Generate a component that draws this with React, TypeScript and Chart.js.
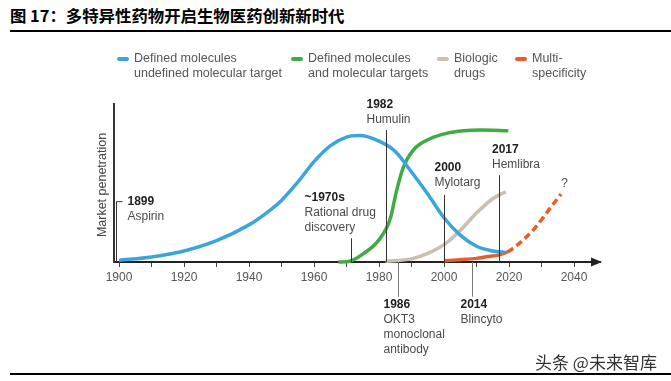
import React, { useEffect, useRef } from "react";
import { Chart, registerables } from "chart.js";

Chart.register(...registerables);

// ---------- text ----------
const TITLE = "图 17：多特异性药物开启生物医药创新新时代";
const WATERMARK = "头条 @未来智库";
const Y_TITLE = "Market penetration";
const PROJECTION_MARK = "?";

// ---------- axis ----------
const X_MIN = 1898.46;
const X_MAX = 2048;
const X_TICKS = [1900, 1910, 1920, 1930, 1940, 1950, 1960, 1970, 1980, 1990, 2000, 2010, 2020, 2030, 2040];
const X_LABEL_STEP = 20;

// ---------- series ----------
const SERIES_NAMES = [
  ["Defined molecules", "undefined molecular target"],
  ["Defined molecules", "and molecular targets"],
  ["Biologic", "drugs"],
  ["Multi-", "specificity"],
];
const SERIES_COLORS = ["#3aa5dc", "#3fab45", "#c9bfb3", "#e3602c"];

const BLUE_X = [1900, 1910, 1920, 1930, 1940, 1945, 1950, 1955, 1960, 1965, 1970, 1974, 1980, 1985, 1990, 1995, 2000, 2005, 2010, 2015, 2019];
const BLUE_Y = [1, 3.2, 7, 13.5, 23.5, 30.5, 39, 50.5, 63.5, 73.5, 79, 80, 76.5, 70, 57, 43, 28, 17, 10, 7, 6];

const GREEN_X = [1967.5, 1971, 1975, 1980, 1983.4, 1985.4, 1987.5, 1990.6, 1995.7, 2000.8, 2006, 2011, 2019.8];
const GREEN_Y = [0, 0.5, 5, 14, 27, 45, 60, 71, 78, 81.4, 83, 83.5, 83];

const BEIGE_X = [1982, 1990, 1995, 2000, 2005, 2010, 2015, 2019];
const BEIGE_Y = [0.5, 2, 5.5, 11, 20, 31, 40, 44.5];

const ORANGE_X = [2000, 2005, 2010, 2013, 2017, 2019.5, 2023, 2028, 2033, 2036];
const ORANGE_Y = [0.8, 1.5, 2.3, 3.3, 4.5, 6.3, 11.5, 21.5, 35, 43];
const ORANGE_PROJECTION_FROM = 2019.5;

// ---------- milestones ----------
const MILESTONE_YEARS = ["1899", "~1970s", "1982", "2000", "2017", "1986", "2014"];
const MILESTONE_NAMES = [
  ["Aspirin"],
  ["Rational drug", "discovery"],
  ["Humulin"],
  ["Mylotarg"],
  ["Hemlibra"],
  ["OKT3", "monoclonal", "antibody"],
  ["Blincyto"],
];
const MILESTONE_X = [1899, 1971.3, 1982, 2000, 2017, 1985.8, 2008.5];
const MILESTONE_END = [38.2, 15, 83.5, 42.5, 55, -22, -22];

// label layout (pixels, relative to the far end of each milestone line)
const MILESTONE_LAYOUT = [
  { dx: 11, dy: 0, tick: true },
  { dx: -47, dy: -41 },
  { dx: -20, dy: -25 },
  { dx: -10, dy: -27.5 },
  { dx: -7.5, dy: -25.5 },
  { dx: -15, dy: 8 },
  { dx: -12, dy: 8 },
];
const LEGEND_LEFT = [117, 291, 437, 515];

const FONT = "'Liberation Sans', Arial, Helvetica, sans-serif";

const overlayPlugin = {
  id: "overlay",
  afterDatasetsDraw(chart: any) {
    const { ctx, scales } = chart;
    const xs = scales.x;
    const ys = scales.y;
    ctx.save();
    MILESTONE_X.forEach((yr, i) => {
      const px = Math.round(xs.getPixelForValue(yr)) + 0.5;
      const p0 = ys.getPixelForValue(0);
      const p1 = ys.getPixelForValue(MILESTONE_END[i]);
      const below = MILESTONE_END[i] < 0;
      ctx.strokeStyle = below ? "#777" : "#333";
      ctx.lineWidth = 1;
      ctx.beginPath();
      ctx.moveTo(px, p0);
      ctx.lineTo(px, p1);
      const lay = MILESTONE_LAYOUT[i];
      if (lay.tick) {
        ctx.lineTo(px + 6, p1);
      }
      ctx.stroke();
      const lx = px + lay.dx;
      let ly = p1 + lay.dy;
      ctx.textAlign = "left";
      ctx.textBaseline = "middle";
      ctx.fillStyle = "#1e1e1e";
      ctx.font = `bold 12px ${FONT}`;
      ctx.fillText(MILESTONE_YEARS[i], lx, ly);
      ctx.font = `12px ${FONT}`;
      ctx.fillStyle = "#4a4a4a";
      MILESTONE_NAMES[i].forEach((t) => {
        ly += 15;
        ctx.fillText(t, lx, ly);
      });
    });
    // projection question mark
    const lastI = ORANGE_X.length - 1;
    ctx.font = `12.5px ${FONT}`;
    ctx.fillStyle = "#555";
    ctx.textAlign = "center";
    ctx.textBaseline = "middle";
    ctx.fillText(
      PROJECTION_MARK,
      xs.getPixelForValue(ORANGE_X[lastI]) + 3.5,
      ys.getPixelForValue(ORANGE_Y[lastI]) - 11
    );
    ctx.restore();
  },
  afterDraw(chart: any) {
    const { ctx, chartArea } = chart;
    ctx.save();
    // arrow head on x axis
    const b = chartArea.bottom;
    const r = chartArea.right;
    ctx.fillStyle = "#222";
    ctx.beginPath();
    ctx.moveTo(r + 2, b);
    ctx.lineTo(r - 9, b - 4.5);
    ctx.lineTo(r - 9, b + 4.5);
    ctx.closePath();
    ctx.fill();
    // y title
    ctx.translate(103, (chartArea.top + chartArea.bottom) / 2 + 2);
    ctx.rotate(-Math.PI / 2);
    ctx.font = `12.5px ${FONT}`;
    ctx.fillStyle = "#444";
    ctx.textAlign = "center";
    ctx.textBaseline = "middle";
    ctx.fillText(Y_TITLE, 0, 0);
    ctx.restore();
    // legend
    ctx.save();
    chart.data.datasets.forEach((ds: any, i: number) => {
      const left = LEGEND_LEFT[i];
      ctx.strokeStyle = ds.borderColor;
      ctx.lineWidth = 4;
      ctx.lineCap = "round";
      ctx.beginPath();
      ctx.moveTo(left + 2, 59);
      ctx.lineTo(left + 10, 59);
      ctx.stroke();
      ctx.font = `12.5px ${FONT}`;
      ctx.fillStyle = "#555";
      ctx.textAlign = "left";
      ctx.textBaseline = "middle";
      SERIES_NAMES[i].forEach((t, k) => ctx.fillText(t, left + 17, 59 + k * 14.5));
    });
    ctx.restore();
  },
};

function pts(xs: number[], ys: number[]) {
  return xs.map((x, i) => ({ x, y: ys[i] }));
}

export default function App() {
  const ref = useRef<HTMLCanvasElement | null>(null);
  useEffect(() => {
    if (!ref.current) return;
    const common = {
      pointRadius: 0,
      borderWidth: 3.5,
      fill: false,
      cubicInterpolationMode: "monotone",
      clip: false,
    };
    const chart = new Chart(ref.current, {
      type: "line",
      data: {
        datasets: [
          { ...common, label: SERIES_NAMES[0].join(" "), data: pts(BLUE_X, BLUE_Y), borderColor: SERIES_COLORS[0] },
          { ...common, label: SERIES_NAMES[1].join(" "), data: pts(GREEN_X, GREEN_Y), borderColor: SERIES_COLORS[1] },
          { ...common, label: SERIES_NAMES[2].join(" "), data: pts(BEIGE_X, BEIGE_Y), borderColor: SERIES_COLORS[2] },
          {
            ...common,
            label: SERIES_NAMES[3].join(" "),
            data: pts(ORANGE_X, ORANGE_Y),
            borderColor: SERIES_COLORS[3],
            segment: {
              borderDash: (c: any) => (c.p0.parsed.x >= ORANGE_PROJECTION_FROM ? [7, 4] : undefined),
            },
          },
        ] as any,
      },
      options: {
        responsive: false,
        animation: false,
        devicePixelRatio: 1,
        layout: { padding: { left: 114, right: 71, top: 104, bottom: 79 } },
        plugins: { legend: { display: false }, tooltip: { enabled: false }, title: { display: false } },
        scales: {
          x: {
            type: "linear",
            min: X_MIN,
            max: X_MAX,
            afterBuildTicks: (s: any) => {
              s.ticks = X_TICKS.map((v) => ({ value: v }));
            },
            afterFit: (s: any) => {
              s.height = 40;
            },
            ticks: {
              autoSkip: false,
              maxRotation: 0,
              color: "#555",
              font: { family: FONT, size: 12 },
              callback: (v: any) => (Number(v) % X_LABEL_STEP === 0 ? String(v) : ""),
            },
            grid: { display: true, drawOnChartArea: false, drawTicks: true, tickLength: 5, color: "#444", lineWidth: 1 },
            border: { display: true, color: "#222", width: 2 },
          },
          y: {
            type: "linear",
            min: 0,
            max: 100,
            ticks: { display: false },
            afterFit: (s: any) => {
              s.width = 0;
            },
            grid: { display: false, drawTicks: false },
            border: { display: true, color: "#333", width: 2 },
          },
        },
      } as any,
      plugins: [overlayPlugin],
    });
    return () => chart.destroy();
  }, []);

  return (
    <div style={{ position: "fixed", left: 0, top: 0, width: 671, height: 381, background: "#fff", overflow: "hidden" }}>
      <div
        style={{
          position: "absolute",
          left: 10,
          top: 5,
          font: "bold 16.4px 'Noto Sans CJK SC', sans-serif",
          lineHeight: "20px",
          color: "#000",
          whiteSpace: "nowrap",
        }}
      >
        {TITLE}
      </div>
      <div style={{ position: "absolute", left: 10, top: 30, width: 661, height: 2, background: "#000" }} />
      <canvas ref={ref} width={671} height={381} style={{ position: "absolute", left: 0, top: 0, width: 671, height: 381 }} />
      <div
        style={{
          position: "absolute",
          left: 535,
          top: 352,
          font: "17px 'Noto Sans CJK SC', sans-serif",
          lineHeight: "20px",
          color: "#333",
          whiteSpace: "nowrap",
        }}
      >
        {WATERMARK}
      </div>
      <div style={{ position: "absolute", left: 10, top: 373, width: 661, height: 2, background: "#000" }} />
    </div>
  );
}
